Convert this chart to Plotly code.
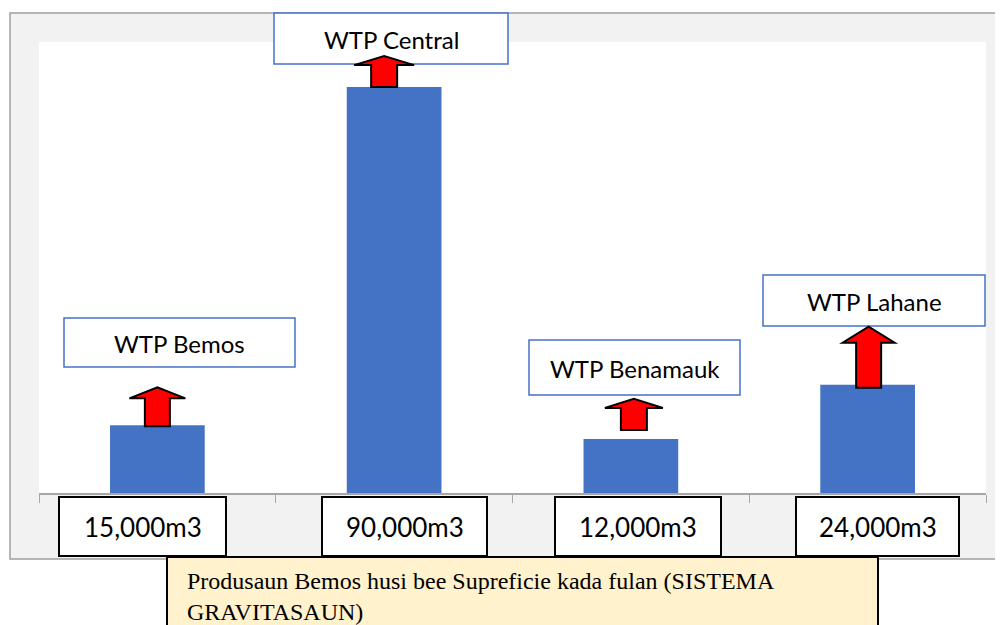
import plotly.graph_objects as go

plants = ["WTP Bemos", "WTP Central", "WTP Benamauk", "WTP Lahane"]
production = [15000, 90000, 12000, 24000]
volume_labels = ["15,000m3", "90,000m3", "12,000m3", "24,000m3"]
note = "Produsaun Bemos husi bee Supreficie kada fulan (SISTEMA<br>GRAVITASAUN)"

BLUE = "#4472C4"

# plot area in page pixels (the page body adds an 8px margin)
L, R, T, B = 39, 986, 42, 493
BODY = 8


def px(x):
    return (x - L) / (R - L)


def py(y):
    return (B - y) / (B - T)


# hand-placed call-out boxes (page pixels: x0, y0, x1, y1)
name_boxes = [(64, 318, 295, 367), (274, 13, 508, 64), (529, 340, 740, 395), (763, 275, 985, 326)]
value_boxes = [(59, 497, 226, 556), (322, 497, 487, 556), (555, 497, 721, 556), (796, 497, 959, 556)]
# arrows: x shift, lift above bar top, shaft height, head height, shaft half width, head half width
arrows = [(0, -1, 28, 11, 12.5, 28), (-10, 0, 22, 9, 13, 30), (3, 9, 22, 9, 13, 29), (1, -3, 45, 16, 12.5, 26)]

fig = go.Figure(go.Bar(
    x=plants, y=production, width=0.4,
    marker=dict(color=BLUE, line=dict(width=0)),
    hoverinfo="x+y", showlegend=False,
))

shapes = [
    # grey chart frame, white plot area on top of it
    dict(type="rect", xref="paper", yref="paper", layer="below",
         x0=px(10), x1=px(1012), y0=py(13), y1=py(559),
         fillcolor="#F2F2F2", line=dict(color="#A0A0A0", width=1.5)),
    dict(type="rect", xref="paper", yref="paper", layer="below",
         x0=0, x1=1, y0=0, y1=1, fillcolor="white", line=dict(width=0)),
]
annotations = []

for i, name in enumerate(plants):
    x0, y0, x1, y1 = name_boxes[i]
    shapes.append(dict(type="rect", xref="paper", yref="paper",
                       x0=px(x0), x1=px(x1), y0=py(y0), y1=py(y1),
                       fillcolor="white", line=dict(color=BLUE, width=1.5)))
    annotations.append(dict(xref="paper", yref="paper", x=px((x0 + x1) / 2), y=py((y0 + y1) / 2 + 1),
                            xanchor="center", yanchor="middle",
                            text=name, showarrow=False, font=dict(size=24, color="black", family="Lato")))

    x0, y0, x1, y1 = value_boxes[i]
    shapes.append(dict(type="rect", xref="paper", yref="paper",
                       x0=px(x0), x1=px(x1), y0=py(y0), y1=py(y1),
                       fillcolor="white", line=dict(color="black", width=2)))
    annotations.append(dict(xref="paper", yref="paper", x=px((x0 + x1) / 2), y=py((y0 + y1) / 2),
                            xanchor="center", yanchor="middle",
                            text=volume_labels[i], showarrow=False,
                            font=dict(size=26, color="black", family="Lato")))

    dx, lift, sh, hh, sw, hw = arrows[i]
    path = (f"M {dx - sw},{lift} L {dx + sw},{lift} L {dx + sw},{lift + sh} L {dx + hw},{lift + sh} "
            f"L {dx},{lift + sh + hh} L {dx - hw},{lift + sh} L {dx - sw},{lift + sh} Z")
    shapes.append(dict(type="path", xref="x", yref="y", xsizemode="pixel", ysizemode="pixel",
                       xanchor=i, yanchor=production[i], path=path,
                       fillcolor="#FF0000", line=dict(color="black", width=2)))

shapes.append(dict(type="rect", xref="paper", yref="paper",
                   x0=px(167), x1=px(878), y0=py(557), y1=py(645),
                   fillcolor="#FFF2CC", line=dict(color="black", width=2)))
annotations.append(dict(xref="paper", yref="paper", x=px(185), y=py(566), xanchor="left", yanchor="top",
                        align="left", text=note, showarrow=False,
                        font=dict(size=24, color="black", family="Liberation Serif")))

fig.update_layout(
    width=1003 - BODY, height=625 - BODY,
    margin=dict(l=L - BODY, r=1003 - R, t=T - BODY, b=625 - B, pad=0),
    paper_bgcolor="white", plot_bgcolor="white",
    xaxis=dict(type="category", range=[-0.5, 3.5], showline=True, linecolor="#A6A6A6", linewidth=1.5,
               ticks="outside", tickson="boundaries", ticklen=8, tickcolor="#A6A6A6",
               showticklabels=False, showgrid=False, zeroline=False, fixedrange=True),
    yaxis=dict(range=[0, 100000], visible=False, fixedrange=True),
    shapes=shapes, annotations=annotations,
    bargap=0.6,
)

fig.write_html("out.html")
